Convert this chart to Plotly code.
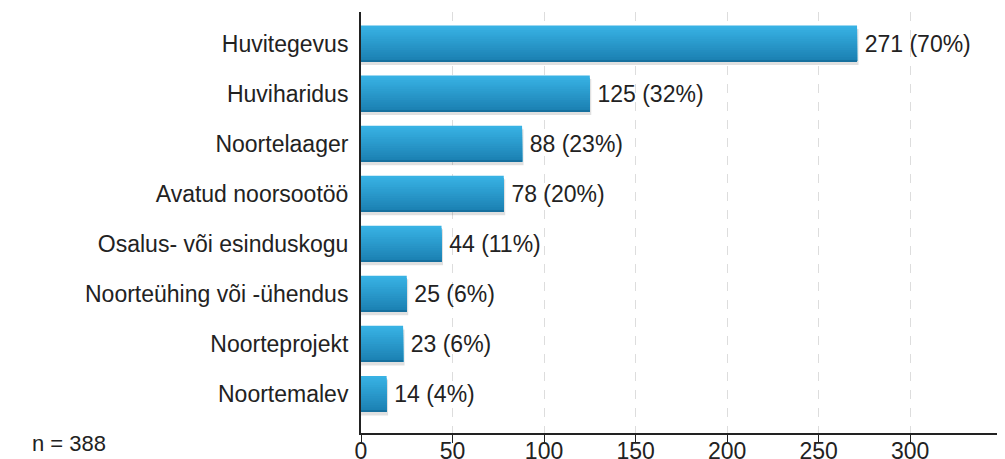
import plotly.graph_objects as go

categories = ["Huvitegevus", "Huviharidus", "Noortelaager", "Avatud noorsootöö",
              "Osalus- või esinduskogu", "Noorteühing või -ühendus", "Noorteprojekt", "Noortemalev"]
counts = [271, 125, 88, 78, 44, 25, 23, 14]
percents = [70, 32, 23, 20, 11, 6, 6, 4]
n_total = 388

pos = list(range(len(categories)))
labels = [f"\u2009{c} ({p}%)" for c, p in zip(counts, percents)]

FONT = "Liberation Sans, Arial, sans-serif"
fig = go.Figure()

half = 0.36
# shadow
fig.add_trace(go.Bar(y=pos, x=[c + 0.8 for c in counts], orientation="h",
                     base=0, offset=-half + 0.07, width=2 * half,
                     marker=dict(color="rgba(0,0,0,0.12)", line=dict(width=0)),
                     hoverinfo="skip", showlegend=False))

# gradient bands (each band extends to the bottom so no seams appear)
top = (56, 178, 228)
bot = (27, 128, 178)
nb = 16
bw = 2 * half / nb
for i in range(nb):
    t = i / (nb - 1)
    col = tuple(round(top[k] + (bot[k] - top[k]) * t) for k in range(3))
    fig.add_trace(go.Bar(y=pos, x=counts, orientation="h", base=0,
                         offset=-half + i * bw, width=2 * half - i * bw,
                         marker=dict(color=f"rgb{col}", line=dict(width=0)),
                         hoverinfo="skip", showlegend=False))

# bottom edge
fig.add_trace(go.Bar(y=pos, x=counts, orientation="h", base=0,
                     offset=half - 0.025, width=0.025,
                     marker=dict(color="rgb(22,112,158)", line=dict(width=0)),
                     hoverinfo="skip", showlegend=False))

# labels
fig.add_trace(go.Bar(y=pos, x=counts, orientation="h", base=0,
                     offset=-half, width=2 * half,
                     marker=dict(color="rgba(0,0,0,0)", line=dict(width=0)),
                     text=labels, textposition="outside", cliponaxis=False,
                     textfont=dict(family=FONT, size=23, color="#222"),
                     showlegend=False))

# page body has an 8px margin; figure sits at (8, 8)
W, H = 997, 451
L, R, T, B = 353, 7, 4, 26
pw = W - L - R
ph = H - T - B

fig.update_layout(
    width=W, height=H,
    margin=dict(l=L, r=R, t=T, b=B, autoexpand=False),
    barmode="overlay",
    plot_bgcolor="white", paper_bgcolor="white",
    font=dict(family=FONT, size=23, color="#222"),
    xaxis=dict(range=[0, 348], tickvals=[0, 50, 100, 150, 200, 250, 300],
               showgrid=True, gridcolor="#dddddd", griddash="dash", gridwidth=1,
               showline=True, linecolor="#222", linewidth=2,
               ticks="outside", ticklen=8, tickcolor="#222",
               ticklabelstandoff=-12,
               tickfont=dict(family=FONT, size=23, color="#222"),
               zeroline=False, automargin=False),
    yaxis=dict(range=[7.78, -0.63], tickvals=pos, ticktext=categories,
               showgrid=False, showline=True, linecolor="#222", linewidth=2,
               ticks="", ticklabelstandoff=6,
               tickfont=dict(family=FONT, size=23, color="#222"),
               zeroline=False, automargin=False),
    annotations=[dict(text=f"n = {n_total}", x=(22 - L) / pw, y=(H - B - 435) / ph,
                      xref="paper", yref="paper",
                      showarrow=False, font=dict(family=FONT, size=22, color="#222"),
                      xanchor="left", yanchor="middle")],
)

fig.write_html("out.html")
